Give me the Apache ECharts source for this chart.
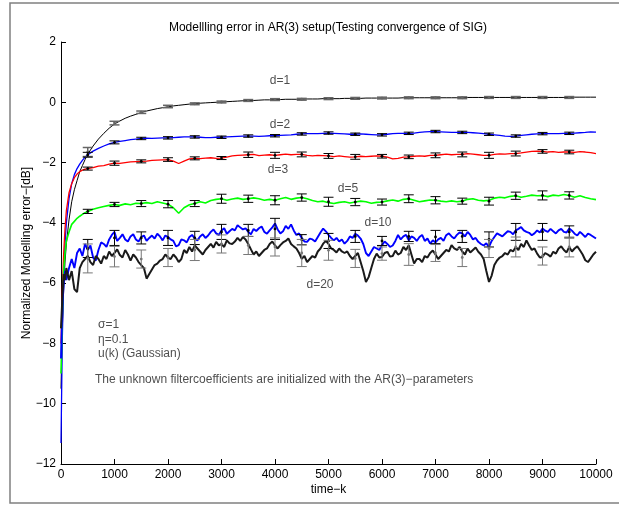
<!DOCTYPE html>
<html><head><meta charset="utf-8">
<script src="https://cdn.jsdelivr.net/npm/echarts@6/dist/echarts.min.js"></script>
<style>html,body{margin:0;padding:0;background:#fff}#c{width:619px;height:508px}</style>
</head><body><div id="c"></div>
<script>
const timeK = [0,25,50,75,100,150,200,250,300,350,400,450,
500,600,700,800,900,1000,
1100,1200,1300,1400,1500,1600,1700,1800,1900,2000,
2100,2200,2300,2400,2500,2600,2700,2800,2900,3000,
3100,3200,3300,3400,3500,3600,3700,3800,3900,4000,
4100,4200,4300,4400,4500,4600,4700,4800,4900,5000,
5100,5200,5300,5400,5500,5600,5700,5800,5900,6000,
6100,6200,6300,6400,6500,6600,6700,6800,6900,7000,
7100,7200,7300,7400,7500,7600,7700,7800,7900,8000,
8100,8200,8300,8400,8500,8600,8700,8800,8900,9000,
9100,9200,9300,9400,9500,9600,9700,9800,9900,10000];

const errD1 = [-9.5,-7.5,-6.2,-5.3,-4.7,-3.9,-3.3,-2.9,-2.6,-2.3,-2.1,-1.9,
-1.72,-1.45,-1.22,-1.03,-0.86,-0.72,
-0.62,-0.53,-0.46,-0.4,-0.34,-0.29,-0.25,-0.21,-0.18,-0.15,
-0.12,-0.1,-0.08,-0.06,-0.05,-0.03,-0.02,-0.01,0,0.01,
0.02,0.03,0.04,0.05,0.06,0.06,0.07,0.08,0.08,0.09,
0.09,0.1,0.1,0.1,0.1,0.11,0.11,0.11,0.12,0.12,
0.12,0.12,0.13,0.13,0.13,0.13,0.14,0.14,0.14,0.14,
0.14,0.14,0.14,0.15,0.15,0.15,0.15,0.15,0.15,0.15,
0.15,0.15,0.15,0.15,0.15,0.16,0.16,0.16,0.16,0.16,
0.16,0.16,0.16,0.16,0.16,0.16,0.16,0.16,0.16,0.16,
0.16,0.16,0.16,0.16,0.16,0.17,0.17,0.17,0.17,0.17];

const errD2 = [-11.3,-7.8,-5.8,-4.7,-4.0,-3.2,-2.7,-2.4,-2.2,-2.05,-1.93,-1.82,
-1.74,-1.62,-1.53,-1.45,-1.38,-1.33,
-1.3,-1.27,-1.24,-1.22,-1.2,-1.19,-1.2,-1.19,-1.18,-1.18,
-1.17,-1.16,-1.15,-1.15,-1.15,-1.16,-1.17,-1.17,-1.16,-1.16,
-1.15,-1.14,-1.13,-1.12,-1.12,-1.12,-1.13,-1.12,-1.11,-1.11,
-1.1,-1.09,-1.08,-1.06,-1.05,-1.04,-1.04,-1.04,-1.03,-1.02,
-1.03,-1.04,-1.05,-1.06,-1.06,-1.05,-1.06,-1.07,-1.08,-1.08,
-1.06,-1.04,-1.03,-1.03,-1.03,-1.02,-1.0,-0.98,-0.97,-0.97,
-0.98,-0.99,-1.0,-1.0,-1.0,-1.0,-1.01,-1.02,-1.04,-1.06,
-1.08,-1.1,-1.12,-1.13,-1.12,-1.1,-1.08,-1.06,-1.05,-1.04,
-1.04,-1.04,-1.04,-1.03,-1.03,-1.02,-1.01,-1.0,-0.98,-0.99];

const errD3 = [-8.0,-6.2,-5.0,-4.2,-3.6,-3.0,-2.7,-2.5,-2.38,-2.3,-2.25,-2.22,
-2.2,-2.17,-2.12,-2.1,-2.05,-2.02,
-2.03,-2.0,-1.98,-1.97,-1.96,-1.95,-1.93,-1.92,-1.91,-1.9,
-1.95,-2.03,-1.95,-1.88,-1.86,-1.87,-1.85,-1.84,-1.86,-1.85,
-1.82,-1.78,-1.76,-1.75,-1.74,-1.73,-1.77,-1.75,-1.74,-1.76,
-1.74,-1.72,-1.74,-1.73,-1.73,-1.76,-1.78,-1.76,-1.77,-1.78,
-1.8,-1.78,-1.8,-1.82,-1.81,-1.79,-1.8,-1.79,-1.78,-1.79,
-1.82,-1.88,-1.86,-1.82,-1.81,-1.79,-1.78,-1.79,-1.76,-1.76,
-1.74,-1.72,-1.74,-1.73,-1.73,-1.7,-1.72,-1.74,-1.76,-1.76,
-1.73,-1.71,-1.72,-1.7,-1.7,-1.68,-1.65,-1.63,-1.62,-1.63,
-1.65,-1.64,-1.66,-1.65,-1.65,-1.66,-1.64,-1.65,-1.67,-1.7];

const errD5 = [-9.0,-7.0,-5.6,-5.0,-4.6,-4.3,-4.05,-3.95,-3.85,-3.78,-3.72,-3.66,
-3.62,-3.55,-3.5,-3.46,-3.42,-3.39,
-3.42,-3.37,-3.4,-3.35,-3.36,-3.33,-3.36,-3.3,-3.34,-3.38,
-3.5,-3.68,-3.5,-3.4,-3.36,-3.3,-3.34,-3.26,-3.22,-3.2,
-3.25,-3.21,-3.18,-3.22,-3.2,-3.17,-3.2,-3.25,-3.22,-3.25,
-3.2,-3.16,-3.22,-3.18,-3.16,-3.2,-3.26,-3.3,-3.28,-3.33,
-3.36,-3.32,-3.3,-3.34,-3.31,-3.28,-3.3,-3.35,-3.32,-3.31,
-3.27,-3.24,-3.28,-3.22,-3.2,-3.25,-3.3,-3.27,-3.24,-3.25,
-3.28,-3.3,-3.27,-3.3,-3.28,-3.22,-3.2,-3.25,-3.27,-3.25,
-3.18,-3.15,-3.17,-3.12,-3.1,-3.15,-3.12,-3.08,-3.1,-3.09,
-3.13,-3.08,-3.1,-3.06,-3.09,-3.15,-3.1,-3.16,-3.2,-3.23];

const errD10 = [-8.5,-6.8,-6.0,-5.6,-5.9,-5.5,-5.2,-5.5,-5.0,-4.85,-5.1,-4.7,
-4.9,-5.15,-4.9,-4.7,-4.55,-4.3,
-4.5,-4.55,-4.45,-4.55,-4.47,-4.6,-4.42,-4.36,-4.58,-4.47,
-4.6,-4.74,-4.58,-4.47,-4.52,-4.45,-4.5,-4.3,-4.35,-4.25,
-4.36,-4.2,-4.08,-4.22,-4.3,-4.2,-4.18,-4.3,-4.25,-4.02,
-4.35,-4.1,-4.05,-4.4,-4.5,-4.63,-4.55,-4.47,-4.19,-4.4,
-4.58,-4.62,-4.69,-4.45,-4.36,-4.52,-5.0,-4.95,-4.85,-4.74,
-4.7,-4.75,-4.4,-4.45,-4.58,-4.5,-4.47,-4.6,-4.69,-4.65,
-4.5,-4.41,-4.45,-4.4,-4.35,-4.3,-4.55,-4.63,-4.75,-4.8,
-4.47,-4.4,-4.36,-4.3,-4.25,-4.14,-4.3,-4.41,-4.25,-4.19,
-4.3,-4.28,-4.25,-4.3,-4.19,-4.36,-4.3,-4.47,-4.4,-4.52];
// d=10 samples half-way between the 100-steps, from k=550 to k=9950
const errD10Half = [-4.75,-5.25,-4.65,-4.8,-4.4,
-4.6,-4.38,-4.62,-4.38,-4.62,-4.42,-4.5,-4.52,-4.45,-4.42,
-4.55,-4.78,-4.55,-4.65,-4.4,-4.58,-4.38,-4.42,-4.22,-4.4,
-4.18,-4.28,-4.25,-4.15,-4.18,-4.38,-4.27,-4.12,-4.36,-4.15,
-4.22,-4.28,-4.2,-4.25,-4.35,-4.62,-4.52,-4.62,-4.32,-4.28,
-4.5,-4.5,-4.55,-4.6,-4.5,-4.42,-4.7,-5.1,-4.8,-4.9,
-4.62,-4.8,-4.6,-4.55,-4.4,-4.45,-4.6,-4.4,-4.52,-4.58,
-4.55,-4.6,-4.35,-4.52,-4.32,-4.45,-4.4,-4.5,-4.7,-4.68,
-4.6,-4.35,-4.45,-4.28,-4.38,-4.2,-4.25,-4.33,-4.35,-4.32,
-4.26,-4.2,-4.35,-4.2,-4.32,-4.26,-4.42,-4.38,-4.36,-4.46];

const errD20 = [-7.5,-6.5,-5.7,-5.9,-5.5,-5.9,-5.6,-6.2,-6.3,-5.5,-5.3,-5.2,
-5.1,-5.4,-5.2,-5.1,-4.95,-5.0,
-5.07,-4.9,-5.25,-5.15,-5.4,-5.85,-5.55,-5.35,-5.2,-5.15,
-5.05,-5.3,-4.9,-4.8,-4.75,-4.95,-4.9,-4.7,-4.63,-4.7,
-4.58,-4.7,-4.5,-4.47,-4.7,-5.05,-5.1,-4.9,-4.7,-4.75,
-4.74,-4.6,-4.7,-4.85,-5.19,-5.3,-5.1,-4.95,-4.69,-4.7,
-4.9,-4.85,-5.0,-5.1,-5.1,-5.3,-5.96,-5.5,-5.02,-5.13,
-4.96,-5.1,-5.05,-4.8,-4.74,-5.35,-5.2,-5.1,-5.0,-5.05,
-5.1,-4.9,-4.74,-4.9,-4.95,-4.85,-4.9,-4.96,-5.2,-5.96,
-5.4,-5.15,-5.0,-4.9,-4.8,-4.7,-4.58,-4.9,-5.02,-5.13,
-5.05,-4.96,-4.85,-4.9,-4.8,-4.85,-4.91,-5.24,-5.18,-4.96];
// d=20 samples half-way between the 100-steps, from k=550 to k=9950
const errD20Half = [-5.3,-5.1,-5.35,-5.2,-5.1,
-4.88,-5.15,-5.05,-5.05,-5.3,-5.5,-5.7,-5.4,-5.25,-5.05,
-5.2,-5.15,-5.2,-5.0,-4.95,-4.85,-5.05,-4.8,-4.82,-4.75,
-4.8,-4.68,-4.62,-4.6,-4.55,-4.88,-4.95,-5.0,-4.85,-4.62,
-4.85,-4.65,-4.52,-4.78,-5.0,-5.1,-5.2,-5.15,-4.85,-4.6,
-4.85,-4.98,-4.95,-4.95,-5.2,-5.0,-5.6,-5.8,-5.2,-5.15,
-5.0,-5.12,-4.92,-5.0,-4.9,-5.05,-5.2,-5.3,-5.15,-4.92,
-5.2,-5.0,-4.95,-4.85,-4.8,-5.05,-4.98,-4.82,-5.05,-5.6,
-5.75,-5.25,-5.1,-5.05,-4.95,-4.9,-4.8,-4.75,-4.85,-5.15,
-5.0,-5.12,-5.02,-4.78,-4.98,-4.95,-4.78,-5.05,-5.3,-5.05];

const ebX = [500,1000,1500,2000,2500,3000,3500,4000,4500,5000,5500,6000,6500,7000,7500,8000,8500,9000,9500];
const ebD1Mid = [-1.65,-0.69,-0.33,-0.14,-0.05,0.01,0.06,0.09,0.1,0.12,0.13,0.14,0.15,0.15,0.15,0.16,0.16,0.16,0.16];
const ebD1Err = [0.15,0.06,0.04,0.04,0.03,0.03,0.03,0.03,0.03,0.03,0.03,0.03,0.03,0.03,0.03,0.03,0.03,0.03,0.03];
const ebD2Mid = [-1.74,-1.33,-1.2,-1.18,-1.15,-1.16,-1.12,-1.11,-1.05,-1.02,-1.06,-1.08,-1.03,-0.97,-1.0,-1.06,-1.12,-1.04,-1.03];
const ebD2Err = [0.08,0.05,0.04,0.04,0.04,0.04,0.04,0.04,0.04,0.04,0.04,0.04,0.04,0.04,0.04,0.04,0.04,0.04,0.04];
const ebD3Mid = [-2.2,-2.02,-1.96,-1.9,-1.86,-1.85,-1.74,-1.76,-1.73,-1.78,-1.81,-1.79,-1.81,-1.76,-1.73,-1.76,-1.7,-1.63,-1.65];
const ebD3Err = [0.05,0.07,0.05,0.06,0.05,0.05,0.09,0.1,0.08,0.08,0.08,0.06,0.06,0.08,0.08,0.1,0.08,0.06,0.06];
const ebD5Mid = [-3.62,-3.39,-3.36,-3.38,-3.36,-3.2,-3.2,-3.25,-3.16,-3.3,-3.31,-3.31,-3.2,-3.25,-3.28,-3.28,-3.1,-3.09,-3.09];
const ebD5Err = [0.07,0.07,0.1,0.12,0.1,0.15,0.12,0.15,0.12,0.15,0.12,0.1,0.13,0.12,0.1,0.13,0.12,0.15,0.12];
const ebD10Mid = [-4.85,-4.5,-4.5,-4.5,-4.5,-4.3,-4.25,-4.2,-4.56,-4.6,-4.45,-4.6,-4.45,-4.47,-4.45,-4.55,-4.3,-4.3,-4.3];
const ebD10Err = [0.3,0.25,0.2,0.25,0.22,0.25,0.2,0.35,0.17,0.25,0.2,0.15,0.17,0.22,0.2,0.25,0.28,0.28,0.2];
const ebD20Mid = [-5.18,-5.12,-5.2,-5.15,-4.9,-4.7,-4.75,-4.8,-5.0,-4.91,-5.18,-5.02,-5.05,-5.0,-5.15,-4.85,-4.8,-5.1,-4.8];
const ebD20Err = [0.48,0.34,0.3,0.3,0.35,0.3,0.3,0.3,0.45,0.33,0.3,0.22,0.36,0.28,0.3,0.3,0.33,0.3,0.33];

const curveLabels = ['d=1','d=2','d=3','d=5','d=10','d=20'];
const curveLabelX = [4093,4093,4056,5364,5925,4841];
const curveLabelY = [0.73,-0.73,-2.22,-2.85,-3.98,-6.04];
const noteLines = ['\u03c3=1','\u03b7=0.1','u(k) (Gaussian)','The unknown filtercoefficients are initialized with the AR(3)\u2212parameters'];
const noteX = [692,692,692,636];
const noteY = [-7.37,-7.86,-8.33,-9.19];

const titleText = 'Modellling error in AR(3) setup(Testing convergence of SIG)';
const xName = 'time\u2212k';
const yName = 'Normalized Modelling error\u2212[dB]';

const FONT = '"Liberation Sans", Arial, Helvetica, sans-serif';
const FS = 12;
const HALF_START = 12; // index of k=500 in timeK

function pairs(vals, half){
  const out = [];
  timeK.forEach((t,i)=>{
    out.push([t, vals[i]]);
    if (half && i >= HALF_START && i - HALF_START < half.length) {
      out.push([t + 50, half[i - HALF_START]]);
    }
  });
  return out;
}
function lineSeries(vals, half, color, width){
  return {type:'line', data: pairs(vals, half), showSymbol:false, symbol:'none',
    lineStyle:{color:color, width:width}, silent:true, animation:false, z:2};
}
function errSeries(mid, err, color, lw){
  return {type:'custom', data: ebX.map((x,i)=>[x, mid[i]-err[i], mid[i]+err[i], mid[i]]), silent:true, animation:false, z:5,
    renderItem: function(params, api){
      const x = api.value(0);
      const bot = api.coord([x, api.value(1)]);
      const top = api.coord([x, api.value(2)]);
      const mid = api.coord([x, api.value(3)]);
      const hw = 5;
      const st = {stroke: color, lineWidth: lw};
      return {type:'group', children:[
        {type:'line', shape:{x1:top[0],y1:top[1],x2:bot[0],y2:bot[1]}, style:st},
        {type:'line', shape:{x1:top[0]-hw,y1:top[1],x2:top[0]+hw,y2:top[1]}, style:st},
        {type:'line', shape:{x1:bot[0]-hw,y1:bot[1],x2:bot[0]+hw,y2:bot[1]}, style:st},
        {type:'circle', shape:{cx:mid[0],cy:mid[1],r:1.4}, style:{fill:color}}
      ]};
    }};
}

const chart = echarts.init(document.getElementById('c'), null, {renderer:'canvas'});
const minus = v => String(v).replace('-', '\u2212');
chart.setOption({
  animation:false,
  backgroundColor:'#fff',
  grid:{left:61, right:23, top:42, bottom:44, containLabel:false},
  xAxis:{type:'value', min:0, max:10000, interval:1000,
    name:xName, nameLocation:'middle', nameGap:20, nameMoveOverlap:false,
    nameTextStyle:{color:'#000', fontSize:FS, fontFamily:FONT},
    axisLine:{onZero:false, lineStyle:{color:'#000', width:1}},
    axisTick:{inside:true, length:5, lineStyle:{color:'#000'}},
    axisLabel:{color:'#000', fontSize:FS, fontFamily:FONT, margin:5, formatter: v => String(v)},
    splitLine:{show:false}},
  yAxis:{type:'value', min:-12, max:2, interval:2,
    name:yName, nameLocation:'middle', nameGap:28, nameMoveOverlap:false,
    nameTextStyle:{color:'#000', fontSize:FS, fontFamily:FONT},
    axisLine:{show:true, onZero:false, lineStyle:{color:'#000', width:1}},
    axisTick:{show:true, inside:true, length:5, lineStyle:{color:'#000'}},
    axisLabel:{color:'#000', fontSize:FS, fontFamily:FONT, margin:5, formatter:minus},
    splitLine:{show:false}},
  graphic:[
    {type:'rect', shape:{x:10, y:3, width:700, height:500}, style:{fill:'none', stroke:'#808080', lineWidth:1.5}, silent:true},
    {type:'text', x:328, y:28, style:{text:titleText, textAlign:'center', textVerticalAlign:'middle', fill:'#000', font:FS+'px '+FONT}, silent:true}
  ],
  series:[
    lineSeries(errD1, null, '#000000', 1),
    lineSeries(errD2, null, '#0000ff', 1.3),
    lineSeries(errD3, null, '#ff0000', 1.3),
    lineSeries(errD5, null, '#00ff00', 1.6),
    lineSeries(errD10, errD10Half, '#0000ff', 1.9),
    lineSeries(errD20, errD20Half, '#1a1a1a', 2),
    errSeries(ebD1Mid, ebD1Err, '#666666', 1.5),
    errSeries(ebD2Mid, ebD2Err, '#000000', 1),
    errSeries(ebD3Mid, ebD3Err, '#000000', 1),
    errSeries(ebD5Mid, ebD5Err, '#000000', 1),
    errSeries(ebD10Mid, ebD10Err, '#000000', 1),
    errSeries(ebD20Mid, ebD20Err, '#777777', 1),
    {type:'scatter', symbolSize:0, silent:true, animation:false, z:6,
      data: curveLabels.map((t,i)=>({value:[curveLabelX[i], curveLabelY[i]], name:t})),
      label:{show:true, position:'inside', formatter:p=>p.name, color:'#222', fontSize:FS, fontFamily:FONT}},
    {type:'scatter', symbolSize:0, silent:true, animation:false, z:6,
      data: noteLines.map((t,i)=>({value:[noteX[i], noteY[i]], name:t})),
      label:{show:true, position:'right', distance:0, align:'left', formatter:p=>p.name, color:'#222', fontSize:FS, fontFamily:FONT}}
  ]
});
</script></body></html>
